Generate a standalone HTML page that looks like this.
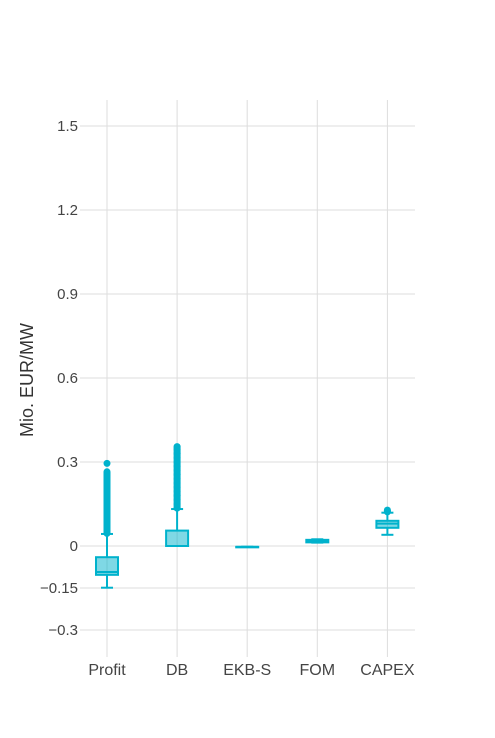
<!DOCTYPE html>
<html><head><meta charset="utf-8"><style>
html,body{margin:0;padding:0;background:#fff;}
svg{display:block;font-family:"Liberation Sans",Arial,sans-serif;}
</style></head><body>
<svg id="chart" width="495" height="738" xmlns="http://www.w3.org/2000/svg">
<g id="grid"></g>
<g id="ylabels"></g>
<g id="xlabels"></g>
<g id="boxes"></g>
<text transform="translate(33,380) rotate(-90)" text-anchor="middle" font-size="18" fill="#333">Mio. EUR/MW</text>
</svg>
<script>
const categories = ["Profit","DB","EKB-S","FOM","CAPEX"];
const yTicks = [-0.3,-0.15,0,0.3,0.6,0.9,1.2,1.5];
const yTickLabels = ["\u22120.3","\u22120.15","0","0.3","0.6","0.9","1.2","1.5"];
const lowerWhisker = [-0.149, 0, -0.003, 0.012, 0.04];
const q1 = [-0.103, 0, -0.003, 0.013, 0.065];
const median = [-0.093, 0, -0.003, 0.018, 0.08];
const q3 = [-0.04, 0.055, -0.003, 0.022, 0.09];
const upperWhisker = [0.043, 0.132, -0.003, 0.024, 0.119];
const outliersProfit = [0.045,0.06,0.075,0.09,0.105,0.12,0.135,0.15,0.165,0.18,0.195,0.21,0.225,0.24,0.255,0.265,0.295];
const outliersDB = [0.135,0.15,0.165,0.18,0.195,0.21,0.225,0.24,0.255,0.27,0.285,0.3,0.315,0.33,0.345,0.355];
const outliersEKB = [];
const outliersFOM = [];
const outliersCAPEX = [0.122,0.128];
const outliers = [outliersProfit,outliersDB,outliersEKB,outliersFOM,outliersCAPEX];

const NS="http://www.w3.org/2000/svg";
const L=80,R=415,T=100,B=657;
const y=v=>546-v*280;
const x=i=>107+i*70.1;
function mk(tag,attrs,parent){const e=document.createElementNS(NS,tag);for(const k in attrs)e.setAttribute(k,attrs[k]);parent.appendChild(e);return e;}
const grid=document.getElementById('grid'),yl=document.getElementById('ylabels'),xl=document.getElementById('xlabels'),bx=document.getElementById('boxes');
yTicks.forEach((t,i)=>{
  const ln=mk('line',{x1:L,x2:R,y1:y(t),y2:y(t),stroke:'#ddd','stroke-width':1},grid);
  
  
  const tx=mk('text',{x:L-2,y:y(t)+5,'text-anchor':'end','font-size':15,fill:'#444'},yl);
  tx.textContent=yTickLabels[i];
  
  
});
categories.forEach((c,i)=>{
  const ln=mk('line',{x1:x(i),x2:x(i),y1:T,y2:B,stroke:'#ddd','stroke-width':1},grid);
  
  
  const tx=mk('text',{x:x(i),y:675,'text-anchor':'middle','font-size':16,fill:'#444'},xl);
  tx.textContent=c;
  
  
  const col='#00b2cc';
  const g=mk('g',{},bx);
  
  
  const cx=x(i),hw=11,ww=6;
  mk('line',{x1:cx,x2:cx,y1:y(upperWhisker[i]),y2:y(q3[i]),stroke:col,'stroke-width':2},g);
  mk('line',{x1:cx,x2:cx,y1:y(q1[i]),y2:y(lowerWhisker[i]),stroke:col,'stroke-width':2},g);
  mk('line',{x1:cx-ww,x2:cx+ww,y1:y(upperWhisker[i]),y2:y(upperWhisker[i]),stroke:col,'stroke-width':2},g);
  mk('line',{x1:cx-ww,x2:cx+ww,y1:y(lowerWhisker[i]),y2:y(lowerWhisker[i]),stroke:col,'stroke-width':2},g);
  const h=Math.max(y(q1[i])-y(q3[i]),0.5);
  mk('rect',{x:cx-hw,y:y(q3[i]),width:2*hw,height:h,fill:'rgba(0,178,204,0.5)',stroke:col,'stroke-width':2},g);
  mk('line',{x1:cx-hw,x2:cx+hw,y1:y(median[i]),y2:y(median[i]),stroke:col,'stroke-width':2},g);
  const o=outliers[i];
  for(let k=0;k<o.length;k++){
    if(k>0 && o[k]-o[k-1]<0.02){
      const seg=mk('line',{x1:cx,x2:cx,y1:y(o[k-1]),y2:y(o[k]),stroke:col,'stroke-width':7},g);
      
      
    }
    const p=mk('circle',{cx:cx,cy:y(o[k]),r:3.5,fill:col},g);
    
    
  }
});
</script>
</body></html>
